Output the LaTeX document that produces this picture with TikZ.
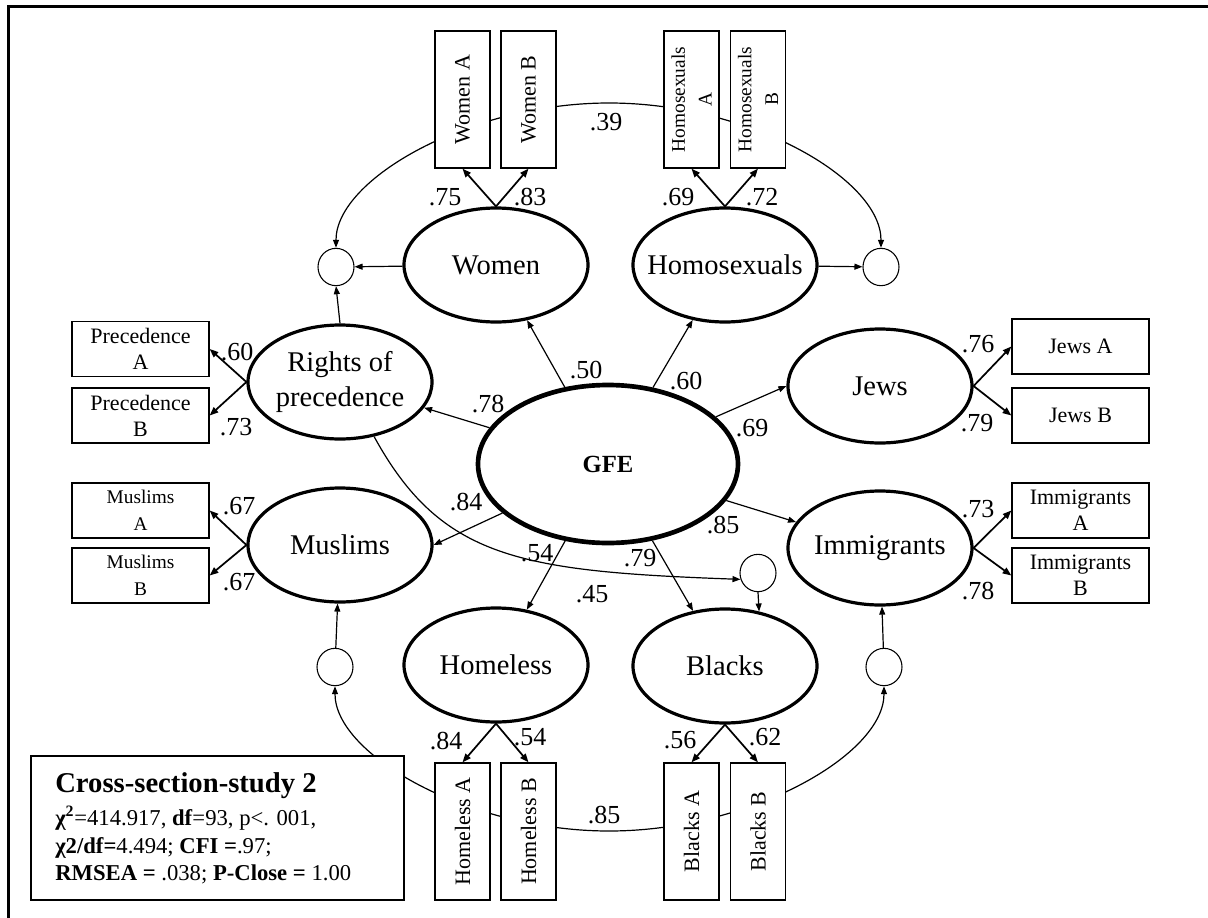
\documentclass[tikz,border=0pt]{standalone}
\usepackage{fontspec}
\setmainfont{Liberation Serif}
\usetikzlibrary{shapes.geometric,arrows.meta,calc}
\pgfdeclarelayer{bg}
\pgfsetlayers{bg,main}
\begin{document}
\begin{tikzpicture}[x=0.75pt,y=-0.75pt,
  latent/.style={ellipse, draw, line width=2.4pt, minimum width=138pt, minimum height=85.5pt,
     inner xsep=-15pt, inner ysep=0pt, align=center, fill=white, font=\fontsize{21.4}{26}\selectfont},
  gfe/.style={ellipse, draw, line width=3.5pt, minimum width=195pt, minimum height=118.5pt,
     inner sep=0pt, fill=white, font=\fontsize{18.5}{20}\selectfont\bfseries},
  err/.style={ellipse, draw, line width=0.8pt, minimum width=27pt, minimum height=28pt, inner sep=0pt, fill=white},
  obs/.style={rectangle, draw, line width=1pt, minimum width=102.75pt, minimum height=41.25pt,
     inner sep=1pt, align=center, fill=white, font=\fontsize{16.5}{19.5}\selectfont},
  obsv/.style={obs, rotate=90},
  smalltxt/.style={font=\fontsize{14.5}{20}\selectfont},
  coef/.style={inner sep=0pt, font=\fontsize{19.5}{21}\selectfont},
  loadarr/.style={-{Triangle[length=6.5pt,width=5pt]}, line width=1.3pt},
  gpath/.style={-{Triangle[length=6pt,width=4.5pt]}, line width=0.9pt},
  covarr/.style={{Triangle[length=6pt,width=4.5pt]}-{Triangle[length=6pt,width=4.5pt]}, line width=0.9pt},
  stattxt/.style={anchor=base west, inner sep=0pt, font=\fontsize{17}{20}\selectfont}
]
\useasboundingbox (0,0) rectangle (1208,918);

% frame
\draw[line width=1.9pt] (8.5,918) -- (8.5,6.5) -- (1208,6.5);

% observed indicators (top)
\node[obsv] (wa) at (462.5,99.5) {Women A};
\node[obsv] (wb) at (528.5,99.5) {Women B};
\node[obsv,smalltxt] (ha) at (691.5,99.5) {Homosexuals\\A};
\node[obsv,smalltxt] (hb) at (758,99.5) {Homosexuals\\B};

% latent factors
\node[latent] (women) at (496,265) {Women};
\node[latent] (homo) at (725,265) {Homosexuals};
\node[latent] (rights) at (340,382) {Rights of\\precedence};
\node[latent] (muslims) at (340,545) {Muslims};
\node[gfe] (gfe) at (608,464) {GFE};
\node[latent] (jews) at (880,386) {Jews};
\node[latent] (immig) at (880,548) {Immigrants};
\node[latent] (homeless) at (496,665) {Homeless};
\node[latent] (blacks) at (725,666) {Blacks};

% residual circles
\node[err] (lc) at (336,267) {};
\node[err] (rc) at (881,267) {};
\node[err] (blc) at (335,667) {};
\node[err] (brc) at (884,667) {};
\node[err] (sc) at (758,573) {};

% observed indicators (sides)
\node[obs] (pa) at (140.5,349) {Precedence\\A};
\node[obs] (pb) at (140.5,415.5) {Precedence\\B};
\node[obs,smalltxt] (ma) at (140.5,510.5) {Muslims\\A};
\node[obs,smalltxt] (mb) at (140.5,575.5) {Muslims\\B};
\node[obs] (ja) at (1080.5,346.5) {Jews A};
\node[obs] (jb) at (1080.5,415.5) {Jews B};
\node[obs] (ia) at (1080.5,510.5) {Immigrants\\A};
\node[obs] (ib) at (1080.5,575.5) {Immigrants\\B};

% observed indicators (bottom)
\node[obsv] (hla) at (462.5,831.5) {Homeless A};
\node[obsv] (hlb) at (528.5,831.5) {Homeless B};
\node[obsv] (bla) at (691.5,831.5) {Blacks A};
\node[obsv] (blb) at (758,831.5) {Blacks B};

% fit statistics box
\node[draw, line width=1pt, fill=white, minimum width=279.75pt, minimum height=108pt, inner sep=0pt] (stats) at (217.5,828) {};
\node[stattxt, font=\fontsize{21.5}{24}\selectfont\bfseries] (sttitle) at (55,792) {Cross-section-study 2};
\node[stattxt] (st1) at (55,825) {\textbf{χ\textsuperscript{2}}=414.917, \textbf{df}=93, p<. 001,};
\node[stattxt] (st2) at (55,853) {\textbf{χ2/df=}4.494; \textbf{CFI =}.97;};
\node[stattxt] (st3) at (55,880) {\textbf{RMSEA =} .038; \textbf{P-Close =} 1.00};

% covariance curves (behind boxes)
\coordinate (top39) at (609,103);
\coordinate (bot85) at (609,831);
\begin{pgfonlayer}{bg}
\draw[covarr] (lc.north) .. controls +(0,-69) and +(-139,0) .. (top39) .. controls +(140,0) and +(0,-69) .. (rc.north);
\draw[covarr] (blc.south) .. controls +(0,69) and +(-139,0) .. (bot85) .. controls +(140,0) and +(0,69) .. (brc.south);
\end{pgfonlayer}

% loadings
\draw[loadarr] (women.north) -- (wa.west);
\draw[loadarr] (women.north) -- (wb.west);
\draw[loadarr] (homo.north) -- (ha.west);
\draw[loadarr] (homo.north) -- (hb.west);
\draw[loadarr] (rights.west) -- (pa.east);
\draw[loadarr] (rights.west) -- (pb.east);
\draw[loadarr] (muslims.west) -- (ma.east);
\draw[loadarr] (muslims.west) -- (mb.east);
\draw[loadarr] (jews.east) -- (ja.west);
\draw[loadarr] (jews.east) -- (jb.west);
\draw[loadarr] (immig.east) -- (ia.west);
\draw[loadarr] (immig.east) -- (ib.west);
\draw[loadarr] (homeless.south) -- (hla.east);
\draw[loadarr] (homeless.south) -- (hlb.east);
\draw[loadarr] (blacks.south) -- (bla.east);
\draw[loadarr] (blacks.south) -- (blb.east);

% GFE paths
\draw[gpath] (gfe) -- (women);
\draw[gpath] (gfe) -- (homo);
\draw[gpath] (gfe) -- (rights);
\draw[gpath] (gfe) -- (muslims.east);
\draw[gpath] (gfe) -- (jews.west);
\draw[gpath] (gfe) -- (immig);
\draw[gpath] (gfe) -- (homeless);
\draw[gpath] (gfe) -- (blacks);

% residual paths
\draw[gpath] (rights.north) -- (lc.south);
\draw[gpath] (women) -- (lc);
\draw[gpath] (homo) -- (rc);
\draw[gpath] (blc) -- (muslims);
\draw[gpath] (brc) -- (immig);
\draw[gpath] (sc.south) -- (blacks.58);
\draw[gpath] (rights.-58) .. controls +(67,122) and +(-221,-8) .. (sc.200);

% coefficients
\node[coef] (c39) at (606,122) {.39};
\node[coef] (c85b) at (604,815) {.85};
\node[coef] (c75) at (445,197) {.75};
\node[coef] (c83) at (530,197) {.83};
\node[coef] (c69h) at (678,197) {.69};
\node[coef] (c72) at (762,197) {.72};
\node[coef] (c60p) at (237,352) {.60};
\node[coef] (c73p) at (236,427) {.73};
\node[coef] (c67a) at (239,506) {.67};
\node[coef] (c67b) at (239,582) {.67};
\node[coef] (c76) at (978,344) {.76};
\node[coef] (c79j) at (977,423) {.79};
\node[coef] (c73i) at (978,509) {.73};
\node[coef] (c78i) at (978,591) {.78};
\node[coef] (c84h) at (446,741) {.84};
\node[coef] (c54h) at (530,737) {.54};
\node[coef] (c56) at (680,740) {.56};
\node[coef] (c62) at (765,737) {.62};
\node[coef] (c50) at (586,370) {.50};
\node[coef] (c60) at (686,381) {.60};
\node[coef] (c78) at (488,404) {.78};
\node[coef] (c69) at (752,428) {.69};
\node[coef] (c84) at (466,502) {.84};
\node[coef] (c85) at (723,525) {.85};
\node[coef] (c54) at (537,553) {.54};
\node[coef] (c79) at (640,558) {.79};
\node[coef] (c45) at (592,594) {.45};
\end{tikzpicture}
\end{document}
